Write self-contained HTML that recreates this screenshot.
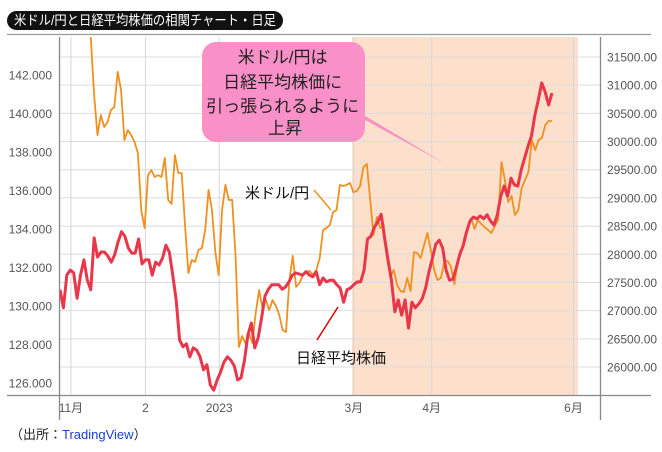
<!DOCTYPE html>
<html><head><meta charset="utf-8">
<style>
body{margin:0;background:#fff;width:662px;height:447px;overflow:hidden;font-family:"Liberation Sans","Noto Sans CJK JP",sans-serif}
</style></head>
<body>
<svg id="chart" width="662" height="447" xmlns="http://www.w3.org/2000/svg" font-family="Liberation Sans, Noto Sans CJK JP, sans-serif">
  <rect x="7" y="11" width="276" height="19" rx="9.5" fill="#111"/>
  <text x="14" y="25" font-size="13.5" fill="#fff" textLength="262" lengthAdjust="spacingAndGlyphs">米ドル/円と日経平均株価の相関チャート・日足</text>
  <line x1="7" y1="34.5" x2="651" y2="34.5" stroke="#999" stroke-width="1.2"/>
  <rect x="352" y="37" width="226" height="358" fill="#fde0cc"/>
  <g id="grid"></g>
  <g id="axes"></g>
  <g id="series" clip-path="url(#clip)"></g>
  <defs><clipPath id="clip"><rect x="60" y="37" width="540" height="358"/></clipPath></defs>
  <g>
    <polygon points="330,95 365,120 444,163" fill="#f990c7"/>
    <rect x="202" y="42" width="163" height="100" rx="14" fill="#f990c7"/>
    <text font-size="17" fill="#222" text-anchor="middle">
      <tspan x="285" y="63">米ドル/円は</tspan>
      <tspan x="285" y="88">日経平均株価に</tspan>
      <tspan x="285" y="112">引っ張られるように</tspan>
      <tspan x="285" y="134">上昇</tspan>
    </text>
  </g>
  <text x="245" y="198" font-size="15" fill="#111">米ドル/円</text>
  <line x1="314" y1="190" x2="331" y2="210" stroke="#f0901e" stroke-width="1.5"/>
  <text x="296" y="363" font-size="15" fill="#111">日経平均株価</text>
  <line x1="317" y1="340" x2="338" y2="307" stroke="#d00" stroke-width="1.5"/>
  <text x="10" y="439" font-size="13" fill="#222">（出所：<tspan fill="#1a3fd0">TradingView</tspan>）</text>
</svg>
<script>
const leftTicks = [142,140,138,136,134,132,130,128,126];
const rightTicks = [31500,31000,30500,30000,29500,29000,28500,28000,27500,27000,26500,26000];
const xTickLabels = ['11月','2','2023','3月','4月','6月'];
const xTickIdx = [3.2,25,46.6,86,108.8,150.3];
const usdStartIdx = 9;
const nikkei = [27370,27050,27630,27720,27670,27220,27630,27900,27540,27370,
28290,27950,28040,28040,27970,27860,27990,28220,28400,28320,
28110,28020,28020,28270,27830,27900,27900,27630,27860,27810,
27930,28160,28040,27630,27190,26480,26360,26410,26180,26340,
26300,26180,25950,26040,25680,25590,25770,25910,26090,26180,
26120,26020,25770,25810,26120,26570,26780,26340,26520,26870,
27260,27380,27460,27460,27460,27380,27420,27510,27630,27670,
27650,27630,27690,27630,27600,27690,27460,27580,27510,27540,
27540,27460,27400,27150,27370,27400,27460,27510,27510,27720,
28270,28320,28480,28570,28710,28290,27900,27540,26980,27190,
26920,27190,26690,27150,27050,27120,27210,27400,27690,27930,
28180,28250,28110,27720,27540,27560,27760,28000,28150,28400,
28590,28660,28630,28680,28630,28700,28590,28520,28700,29030,
29210,29030,29350,29230,29210,29500,29710,29920,30100,30470,
30740,31040,30880,30650,30860];
const usdjpy = [143.97,140.96,138.88,139.92,139.30,139.56,140.18,140.34,142.16,141.22,
138.62,139.14,138.88,138.52,137.95,134.99,134.05,136.80,137.06,136.70,
136.80,136.70,137.69,135.51,135.30,137.84,136.91,136.91,134.21,131.71,
132.39,132.29,132.91,133.01,133.95,136.03,134.99,132.80,131.61,134.99,
136.29,135.51,135.51,132.65,127.87,128.44,128.03,128.60,128.08,129.64,
130.83,129.90,130.31,129.79,130.31,130.00,129.53,128.75,128.65,131.35,
132.60,130.99,131.19,131.61,131.77,131.82,131.61,131.87,132.49,133.95,
134.05,134.21,134.88,134.99,136.29,136.23,136.29,136.39,135.92,135.97,
136.23,137.22,137.38,135.51,133.69,134.62,134.05,134.21,132.49,131.51,
131.87,131.09,130.78,130.73,131.45,130.78,132.80,132.75,132.49,133.17,
133.79,132.91,131.87,131.35,131.45,132.29,132.34,132.03,131.14,132.29,
132.75,133.58,133.95,134.57,134.00,134.47,134.26,134.10,133.95,133.79,
134.16,134.47,137.48,136.55,135.40,135.71,134.73,134.99,136.13,136.55,
136.96,138.62,138.10,138.62,138.73,139.40,139.61,139.61];
const NS='http://www.w3.org/2000/svg';
const lastIdx = nikkei.length-1;
const xS = i => 60 + i*(492/lastIdx);
const xO = i => xS(usdStartIdx + i*(lastIdx-usdStartIdx)/(usdjpy.length-1));
const yL = v => 75 + (142-v)*19.25;
const yR = v => 57 + (31500-v)*(310/5500);
function mk(tag, attrs, parent){const e=document.createElementNS(NS,tag);for(const k in attrs)e.setAttribute(k,attrs[k]);parent.appendChild(e);return e;}
const grid=document.getElementById('grid'), axes=document.getElementById('axes'), series=document.getElementById('series');
rightTicks.forEach(t=>{
  const y=yR(t);
  const l=mk('line',{x1:60,x2:600,y1:y,y2:y,stroke:'#dcdcdc','stroke-width':1},grid);
  
  
  const tx=mk('text',{x:607,y:y+4.5,'font-size':12,fill:'#555'},axes);
  tx.textContent=t.toFixed(2);
  
  
});
leftTicks.forEach(t=>{
  const tx=mk('text',{x:52,y:yL(t)+4.5,'font-size':12,fill:'#555','text-anchor':'end'},axes);
  tx.textContent=t.toFixed(3);
  
  
});
xTickLabels.forEach((s,k)=>{
  const x=xS(xTickIdx[k]);
  const l=mk('line',{x1:x,x2:x,y1:37,y2:395,stroke:'#d6d6d6','stroke-width':1},grid);
  
  
  const tx=mk('text',{x:x,y:412,'font-size':12,fill:'#555','text-anchor':'middle'},axes);
  tx.textContent=s;
  
  
});
[[59.5,37,59.5,420],[600.5,37,600.5,420],[7,395.5,651,395.5]].forEach(a=>{
  const l=mk('line',{x1:a[0],y1:a[1],x2:a[2],y2:a[3],stroke:'#888','stroke-width':1.3},axes);
  
  
});
const op=mk('polyline',{points:usdjpy.map((v,i)=>xO(i)+','+yL(v)).join(' '),fill:'none',stroke:'#f0901e','stroke-width':1.8,'stroke-linejoin':'round'},series);


const np=mk('polyline',{points:nikkei.map((v,i)=>xS(i)+','+yR(v)).join(' '),fill:'none',stroke:'#e8364a','stroke-width':3,'stroke-linejoin':'round'},series);


</script>
</body></html>
